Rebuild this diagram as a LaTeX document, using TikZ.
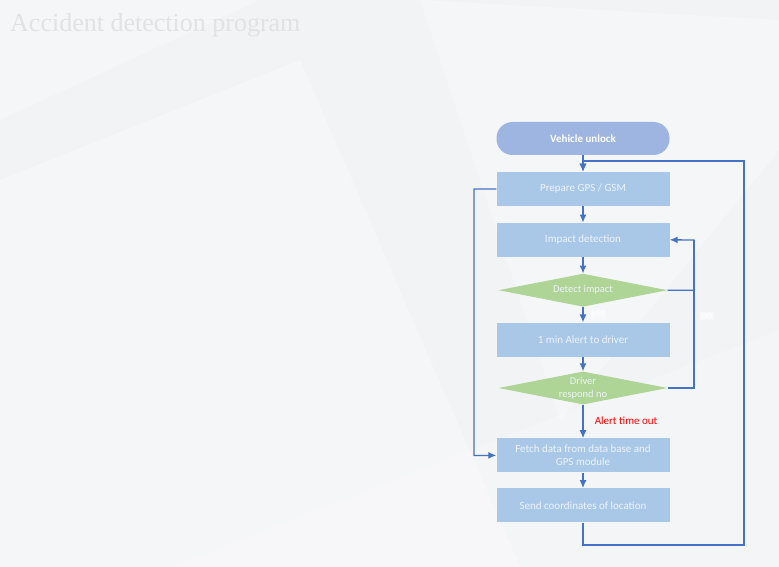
\documentclass[tikz,border=0pt]{standalone}
\usepackage{fontspec}
\setmainfont{Carlito}
\newfontfamily\titlefont{Liberation Serif}
\usetikzlibrary{arrows.meta,shapes,positioning}

\definecolor{flowline}{HTML}{4472C4}
\definecolor{boxfill}{HTML}{A9C8E8}
\definecolor{decfill}{HTML}{AED496}
\definecolor{pillfill}{HTML}{9DB5E0}
\definecolor{bgcol}{HTML}{F2F3F5}
\definecolor{titlecol}{HTML}{E1E2E6}
\definecolor{boxtext}{HTML}{EDF3FA}

\begin{document}
\begin{tikzpicture}[x=1pt,y=1pt,
    every node/.style={font=\fontsize{11}{13}\selectfont},
    procbox/.style={rectangle,fill=boxfill,minimum width=173pt,minimum height=34pt,
      inner sep=0pt,text=boxtext,align=center},
    decision/.style={diamond,fill=decfill,aspect=5,minimum width=169pt,minimum height=33pt,
      inner sep=0pt,text=boxtext,align=center,font=\fontsize{10.5}{13}\selectfont},
    startbox/.style={rectangle,rounded corners=16pt,fill=pillfill,minimum width=173pt,
      minimum height=33pt,text=white,font=\bfseries\fontsize{11}{13}\selectfont},
    flow/.style={-{Latex[length=8pt,width=7pt]},draw=flowline,line width=1.3pt},
    tag/.style={text=white,fill=white!40!bgcol,inner sep=1.5pt,font=\fontsize{10}{11}\selectfont}]
        % background
        \fill[bgcol] (0,0) rectangle (779,-567);
        \useasboundingbox (0,0) rectangle (779,-567);
        \fill[white,opacity=0.3] (0,-180) -- (300,-60) -- (520,-567) -- (0,-567) -- cycle;
        \fill[white,opacity=0.3] (420,0) -- (779,-20) -- (779,-150) -- (560,-420) -- cycle;
        \fill[white,opacity=0.2] (170,-567) -- (779,-330) -- (779,-567) -- cycle;
        \fill[white,opacity=0.25] (0,0) -- (260,0) -- (0,-120) -- cycle;
        \node[anchor=base west,inner sep=0pt,text=titlecol,font=\titlefont\fontsize{26}{29}\selectfont]
          (title) at (10,-32) {Accident detection program};

        % flow chart
        \node[startbox] (unlock) at (583,-138.5) {Vehicle unlock};
        \node[procbox,below = 16.5pt of unlock] (prep) {Prepare GPS / GSM};
        \node[procbox,below = 16.5pt of prep] (impact) {Impact detection};
        \node[decision,below = 16.5pt of impact] (detect) {Detect impact};
        \node[procbox,below = 15.5pt of detect] (alert) {1 min Alert to driver};
        \node[decision,below = 14.5pt of alert] (respond) {Driver\\respond no};
        \node[procbox,below = 33.5pt of respond] (fetch) {Fetch data from data base and\\GPS module};
        \node[procbox,below = 15.5pt of fetch] (send) {Send coordinates of location};

        \coordinate (loopse) at (744,-545);
        \coordinate (loopne) at (744,-161);
        \coordinate (leftup) at (474,-189);
        \coordinate (rightup) at (694,-240);

        \draw[flow] (unlock) to (prep);
        \draw[flow] (prep) to (impact);
        \draw[flow] (impact) to (detect);
        \draw[flow] (detect) to (alert);
        \draw[flow] (alert) to (respond);
        \draw[flow] (respond) to (fetch);
        \draw[flow] (fetch) to (send);
        \draw[flow] (send.south) |- (loopse) -- (loopne) -| (prep.north);
        \draw[flow] (prep.west) -- (leftup) |- (fetch.west);
        \draw[flow] (detect.east) -| (rightup) -- (impact.east);
        \draw[draw=flowline,line width=1.3pt] (respond.east) -| (rightup);

        \node[tag] (yes) at (598,-315) {yes};
        \node[tag] (no) at (707,-316) {no};
        \node[text=red] (timeout) at (626,-421) {Alert time out};
      \end{tikzpicture}
\end{document}
